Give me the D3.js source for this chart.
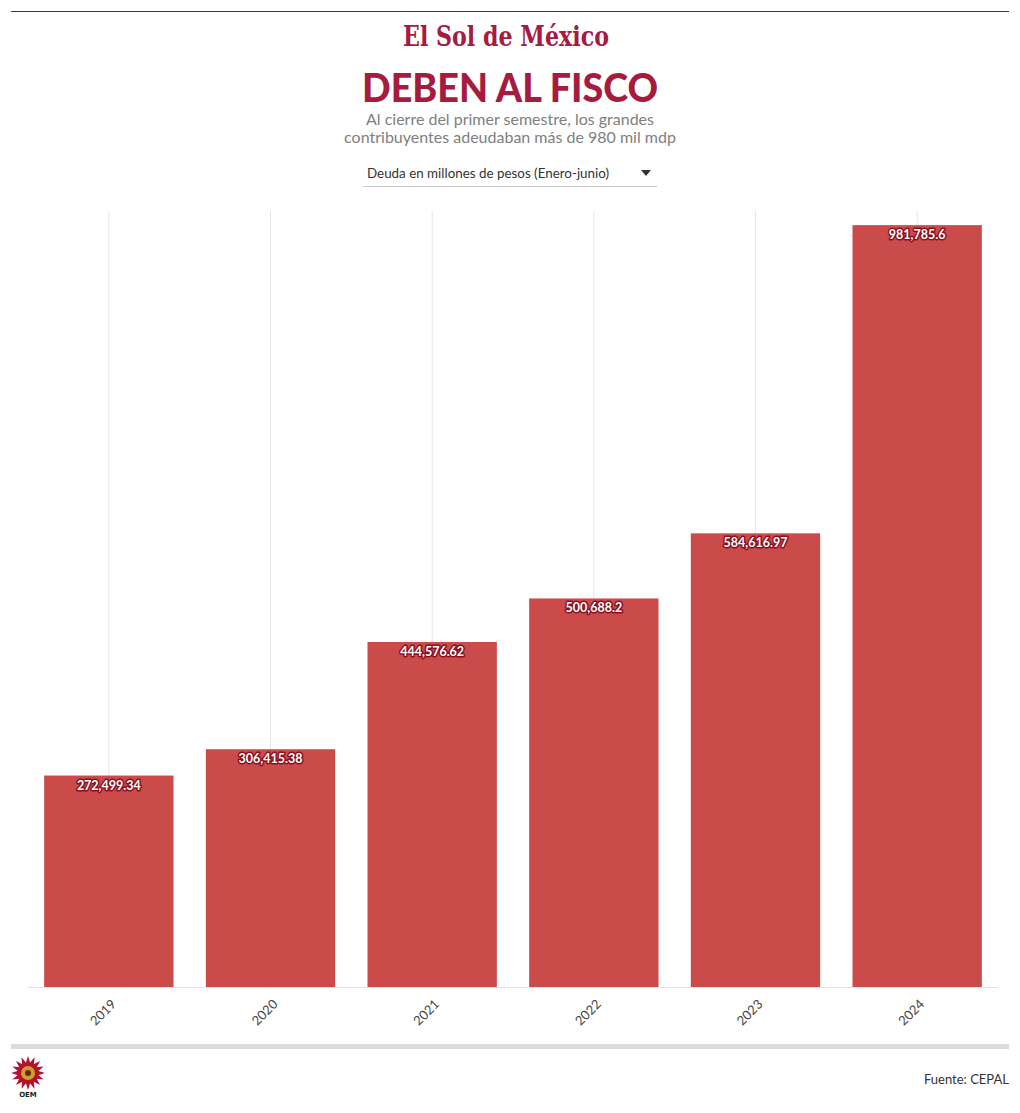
<!DOCTYPE html>
<html><head><meta charset="utf-8">
<script src="https://cdn.jsdelivr.net/npm/d3@7"></script>
<style>
body{margin:0;background:#fff;}
svg{display:block;}
</style></head>
<body>
<svg id="chart" width="1020" height="1113"></svg>
<script>
const years = ["2019","2020","2021","2022","2023","2024"];
const deuda = [272499.34, 306415.38, 444576.62, 500688.2, 584616.97, 981785.6];
const valueLabels = ["272,499.34","306,415.38","444,576.62","500,688.2","584,616.97","981,785.6"];
const titleText = "DEBEN AL FISCO";
const subtitleLines = ["Al cierre del primer semestre, los grandes","contribuyentes adeudaban más de 980 mil mdp"];
const dropdownText = "Deuda en millones de pesos (Enero-junio)";
const sourceText = "Fuente: CEPAL";

(function(){
const svg = d3.select("#chart");
const font = "Lato, 'Open Sans', sans-serif";
const brand = "#a51c3f";

// header line
svg.append("line").attr("x1",11).attr("x2",1009).attr("y1",11.5).attr("y2",11.5)
  .attr("stroke","#6e2340").attr("stroke-width",1.2);
// logo text
svg.append("text").attr("x",506).attr("y",46).attr("text-anchor","middle")
  .attr("font-family","'DejaVu Serif', serif").attr("font-weight","bold")
  .attr("font-size",27).attr("fill",brand)
  .attr("textLength",206).attr("lengthAdjust","spacingAndGlyphs")
  .text("El Sol de México");

// title
svg.append("text").attr("x",510).attr("y",102).attr("text-anchor","middle")
  .attr("font-family",font).attr("font-weight","900").attr("font-size",40)
  .attr("fill",brand).attr("textLength",296).attr("lengthAdjust","spacingAndGlyphs")
  .text(titleText);
subtitleLines.forEach((t,i)=>{
  svg.append("text").attr("x",510).attr("y",125+i*18).attr("text-anchor","middle")
    .attr("font-family",font).attr("font-size",16).attr("fill","#808080").text(t);
});
// dropdown
svg.append("text").attr("x",367).attr("y",178).attr("font-family",font)
  .attr("font-size",13).attr("fill","#333")
  .attr("textLength",242).attr("lengthAdjust","spacingAndGlyphs").text(dropdownText);
svg.append("path").attr("d","M641,170 L651,170 L646,176 Z").attr("fill","#333");
svg.append("line").attr("x1",363).attr("x2",657).attr("y1",186.5).attr("y2",186.5)
  .attr("stroke","#c8c8c8").attr("stroke-width",1);

// chart
const pLeft=28,pRight=998,pTop=211,pBottom=987;
const x = d3.scaleBand().domain(years).range([pLeft,pRight]).paddingInner(0.2).paddingOuter(0.1);
const y = d3.scaleLinear().domain([0,1000000]).range([pBottom,pTop]);

// gridlines
svg.append("g").selectAll("line").data(years).join("line")
  .attr("x1",d=>x(d)+x.bandwidth()/2).attr("x2",d=>x(d)+x.bandwidth()/2)
  .attr("y1",pTop).attr("y2",pBottom).attr("stroke","#e6e6e6").attr("stroke-width",1);

// bars
svg.append("g").selectAll("rect").data(years).join("rect")
  .attr("x",d=>x(d)).attr("width",x.bandwidth())
  .attr("y",(d,i)=>y(deuda[i])).attr("height",(d,i)=>pBottom-y(deuda[i]))
  .attr("fill","#cb4a4a");

// baseline
svg.append("line").attr("x1",pLeft).attr("x2",pRight).attr("y1",pBottom+0.5).attr("y2",pBottom+0.5)
  .attr("stroke","#e3e3e3");

// value labels
const lg = svg.append("g").attr("font-family",font).attr("font-weight","bold")
  .attr("font-size",12.5).attr("text-anchor","middle");
lg.selectAll("text.halo").data(years).join("text").attr("class","halo")
  .attr("x",d=>x(d)+x.bandwidth()/2).attr("y",(d,i)=>y(deuda[i])+14)
  .attr("fill","none").attr("stroke","#8a1020").attr("stroke-width",3).attr("stroke-linejoin","round")
  .text((d,i)=>valueLabels[i]);
lg.selectAll("text.lab").data(years).join("text").attr("class","lab")
  .attr("x",d=>x(d)+x.bandwidth()/2).attr("y",(d,i)=>y(deuda[i])+14)
  .attr("fill","#fff").text((d,i)=>valueLabels[i]);

// x axis
const xa = svg.append("g").attr("transform",`translate(0,${pBottom})`)
  .call(d3.axisBottom(x).tickSize(0).tickPadding(0));
xa.select(".domain").remove();
xa.selectAll("text").attr("font-family",font).attr("font-size",13).attr("fill","#444")
  .attr("text-anchor","end").attr("dy",null)
  .attr("transform","translate(8,18) rotate(-45)");

// footer
svg.append("rect").attr("x",11).attr("y",1044).attr("width",998).attr("height",5).attr("fill","#dcdcdc");
const logo = svg.append("g").attr("transform","translate(28,1073)");
const rays = d3.range(16);
logo.selectAll("path").data(rays).join("path")
  .attr("d","M-2.5,-9 L0,-17 L2.5,-9 Z")
  .attr("transform",d=>`rotate(${d*22.5})`).attr("fill","#b3122e");
logo.append("circle").attr("r",10).attr("fill","#b3122e");
logo.append("circle").attr("r",7).attr("fill","#c9a227");
logo.append("circle").attr("r",3).attr("fill","#7a1a10");
svg.append("text").attr("x",28).attr("y",1097).attr("text-anchor","middle")
  .attr("font-family","'DejaVu Sans', sans-serif").attr("font-weight","bold").attr("font-size",7)
  .attr("fill","#222").text("OEM");
svg.append("text").attr("x",1009).attr("y",1084).attr("text-anchor","end")
  .attr("font-family",font).attr("font-size",13).attr("fill","#333").text(sourceText);
})();
</script>
</body></html>
